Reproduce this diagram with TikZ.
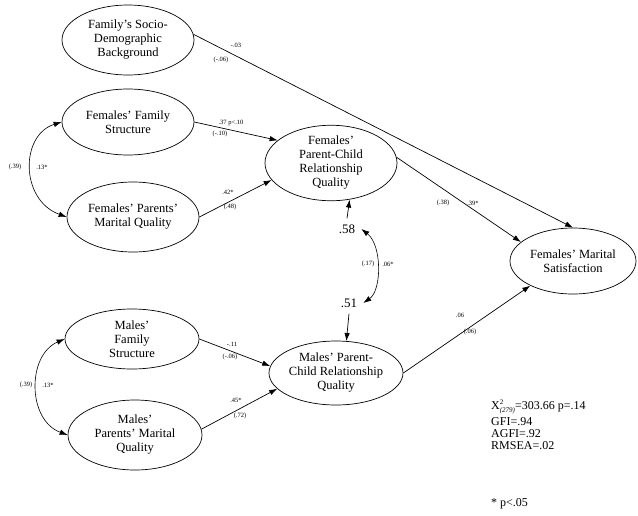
\documentclass[tikz,border=0pt]{standalone}
\usepackage{fontspec}
\setmainfont{Liberation Serif}
\usetikzlibrary{shapes.geometric,arrows.meta}
\newcommand{\idxfont}{\fontsize{7}{7}\selectfont}
\begin{document}
\begin{tikzpicture}[x=1pt,y=-1pt,
  latent/.style={draw, ellipse, line width=0.7pt, inner sep=0pt, align=center,
    font=\fontsize{12.5}{14}\selectfont},
  tip/.style={-{Latex[length=8pt,width=5.5pt]}},
  effect/.style={draw, line width=0.7pt, tip},
  cov/.style={draw, line width=0.6pt, {Latex[length=8pt,width=5.5pt]}-{Latex[length=8pt,width=5.5pt]}},
  coef/.style={font=\fontsize{6.5}{7}\selectfont, inner sep=0.5pt},
  rsq/.style={font=\fontsize{13}{15}\selectfont, inner sep=6pt},
  stats/.style={font=\fontsize{12}{12}\selectfont, align=left, inner sep=0pt}
]
\useasboundingbox (0,0) rectangle (638,515);

% latent constructs
\node[latent, minimum width=132pt, minimum height=70pt] (fsdb) at (128,40) {Family's Socio-\\Demographic\\Background};
\node[latent, minimum width=132pt, minimum height=66pt] (ffs)  at (128,122) {Females' Family\\Structure};
\node[latent, minimum width=132pt, minimum height=70pt] (fpmq) at (133,217) {Females' Parents'\\Marital Quality};
\node[latent, minimum width=132pt, minimum height=64pt] (fpcr) at (331,163) {Females'\\Parent-Child\\Relationship\\Quality};
\node[latent, minimum width=126pt, minimum height=66pt] (fms)  at (573,261) {Females' Marital\\Satisfaction};
\node[latent, minimum width=134pt, minimum height=60pt] (mfs)  at (132,339) {Males'\\Family\\Structure};
\node[latent, minimum width=134pt, minimum height=70pt] (mpmq) at (135,435) {Males'\\Parents' Marital\\Quality};
\node[latent, minimum width=134pt, minimum height=64pt] (mpcr) at (336,373) {Males' Parent-\\Child Relationship\\Quality};

% explained variance
\node[rsq] (r58) at (347,229) {.58};
\node[rsq] (r51) at (349,303) {.51};

% structural paths
\draw[effect] (fsdb.5)  -- (fms.north);
\draw[effect] (ffs.east) -- (fpcr.157);
\draw[effect] (fpmq.east) -- (fpcr.196);
\draw[effect] (fpcr.5)  -- (fms.160);
\draw[effect] (mfs.east) -- (mpcr.174);
\draw[effect] (mpmq.5)  -- (mpcr.195);
\draw[effect] (mpcr.east) -- (fms.210);
\draw[effect] (r58.north) -- (fpcr.297);
\draw[effect] (r51.south) -- (mpcr.72);

% correlations
\draw[cov] (ffs.west) .. controls (20,135) and (20,200) .. (fpmq.west);
\draw[cov] (mfs.west) .. controls (27,355) and (27,420) .. (mpmq.west);
\draw[cov] (r58.east) .. controls (382,245) and (382,290) .. (r51.east);

% coefficients
\node[coef] (c1a) at (236,45)  {-.03};
\node[coef] (c1b) at (221,60)  {(-.06)};
\node[coef] (c2a) at (231,123) {.37 p<.10};
\node[coef] (c2b) at (220,134) {(-.10)};
\node[coef] (c3a) at (228,192) {.42*};
\node[coef] (c3b) at (230,207) {(.48)};
\node[coef] (c4a) at (15,167)  {(.39)};
\node[coef] (c4b) at (42,167)  {.13*};
\node[coef] (c5a) at (443,203) {(.38)};
\node[coef] (c5b) at (473,203) {.39*};
\node[coef] (c6a) at (368,264) {(.17)};
\node[coef] (c6b) at (388,264) {.06*};
\node[coef] (c7a) at (232,344) {-.11};
\node[coef] (c7b) at (230,357) {(-.06)};
\node[coef] (c8a) at (26,385)  {(.39)};
\node[coef] (c8b) at (48,385)  {.13*};
\node[coef] (c9a) at (236,400) {.45*};
\node[coef] (c9b) at (240,416) {(.72)};
\node[coef] (c10a) at (460,315) {.06};
\node[coef] (c10b) at (470,332) {(.06)};

% fit indices
\node[stats, anchor=north west] (fit) at (491,400)
  {X\rlap{\raisebox{4.8pt}{\idxfont 2}}\raisebox{-3.2pt}{\idxfont\itshape(279)}=303.66 p=.14\\[2pt]GFI=.94\\AGFI=.92\\RMSEA=.02};
\node[stats, anchor=base west] (sig) at (491,506) {* p<.05};
\end{tikzpicture}
\end{document}
